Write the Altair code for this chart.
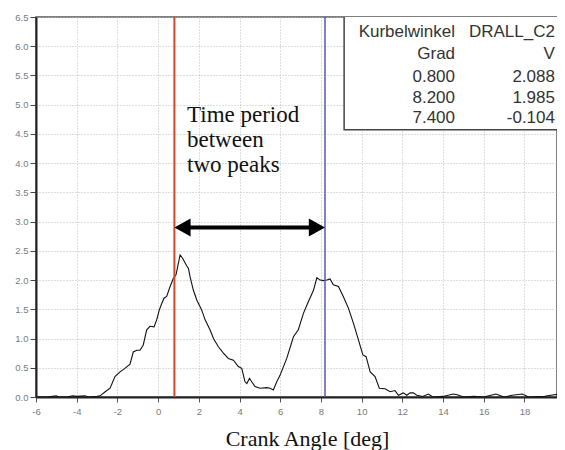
import altair as alt
import pandas as pd

# ---- data ----
angle = [-6.0, -5.5, -5.0, -4.9, -4.5, -4.2, -4.0, -3.6, -3.4, -3.0, -2.85, -2.6, -2.36, -2.12,
         -1.87, -1.63, -1.38, -1.22, -1.05, -0.89, -0.73, -0.56, -0.40, -0.20, -0.07, 0.06,
         0.18, 0.29, 0.42, 0.59, 0.75, 0.88, 1.08, 1.21, 1.41, 1.49, 1.57, 1.73, 1.90, 2.14,
         2.31, 2.55, 2.72, 2.96, 3.21, 3.45, 3.70, 3.94, 4.11, 4.27, 4.36, 4.49, 4.60, 4.76,
         5.01, 5.34, 5.50, 5.66, 5.83, 5.99, 6.32, 6.65, 6.89, 7.14, 7.38, 7.63, 7.80, 7.96,
         8.12, 8.29, 8.45, 8.61, 8.86, 9.10, 9.35, 9.60, 9.84, 10.06, 10.22, 10.42, 10.66,
         10.87, 11.15, 11.40, 11.64, 11.81, 12.05, 12.22, 12.38, 12.54, 12.71, 13.0, 13.28,
         13.5, 14.0, 14.5, 14.7, 15.0, 15.5, 16.0, 16.6, 17.0, 17.4, 17.9, 18.2, 19.0, 19.3,
         19.7, 20.0]
volts = [0.0, 0.0, 0.02, 0.0, 0.0, 0.02, 0.01, 0.02, 0.0, 0.01, 0.02, 0.09, 0.15, 0.35,
         0.43, 0.49, 0.56, 0.77, 0.80, 0.80, 0.89, 1.15, 1.21, 1.20, 1.32, 1.49,
         1.60, 1.69, 1.72, 1.89, 2.03, 2.09, 2.43, 2.37, 2.24, 2.20, 2.06, 1.83, 1.66, 1.49,
         1.32, 1.15, 1.00, 0.86, 0.75, 0.66, 0.63, 0.52, 0.49, 0.26, 0.23, 0.32, 0.26, 0.18,
         0.15, 0.16, 0.15, 0.12, 0.26, 0.37, 0.66, 1.03, 1.15, 1.43, 1.63, 1.82, 2.04, 2.00,
         1.99, 2.00, 2.02, 1.92, 1.89, 1.72, 1.52, 1.26, 0.98, 0.72, 0.69, 0.43, 0.35,
         0.15, 0.14, 0.09, 0.11, 0.03, 0.07, 0.03, 0.07, 0.07, 0.03, 0.01, 0.05,
         0.0, 0.01, 0.05, 0.04, 0.0, 0.01, 0.0, 0.05, 0.0, 0.03, 0.05, 0.0, 0.01, 0.03,
         0.05, 0.01]

cursor_red = 0.8
cursor_blue = 8.2
arrow_level = 2.9
annotation = ["Time period", "between", "two peaks"]

table_col1 = ["Kurbelwinkel", "Grad", "0.800", "8.200", "7.400"]
table_col2 = ["DRALL_C2", "V", "2.088", "1.985", "-0.104"]

x_ticks = list(range(-6, 21, 2))
y_ticks = [i * 0.5 for i in range(14)]

# ---- chart ----
X_DOM = [-6, 19.6]
Y_DOM = [0, 6.5]
xs = alt.Scale(domain=X_DOM, nice=False, zero=False)
ys = alt.Scale(domain=Y_DOM, nice=False, zero=False)

curve_df = pd.DataFrame({"angle": angle, "v": volts})

x_axis = alt.Axis(
    values=x_ticks, labelExpr="datum.value", title="Crank Angle [deg]",
    titleFont="Liberation Serif", titleFontSize=22, titleFontWeight="normal",
    titleColor="#111", titleX=271, titleY=48, titleAlign="center", titleBaseline="alphabetic",
    labelFont="Liberation Sans", labelFontSize=9.5, labelColor="#7a7a7a", labelPadding=4,
    labelOverlap=False, labelFlush=False,
    tickColor="#555", tickSize=5, domainColor="#222", domainWidth=2,
    grid=True, gridColor="#bdbdbd", gridDash=[1, 2], gridWidth=1,
)
y_axis = alt.Axis(
    values=y_ticks, format=".1f", title=None,
    labelFont="Liberation Sans", labelFontSize=9.5, labelColor="#7a7a7a", labelPadding=2,
    labelOverlap=False, labelFlush=False,
    tickColor="#444", tickSize=6, domainColor="#222", domainWidth=2,
    grid=True, gridColor="#bdbdbd", gridDash=[1, 2], gridWidth=1,
)


def X(f):
    return alt.X(f, type="quantitative", scale=xs, axis=x_axis)


def Y(f):
    return alt.Y(f, type="quantitative", scale=ys, axis=y_axis)


curve = alt.Chart(curve_df).mark_line(color="#111", strokeWidth=1.1, clip=True).encode(
    x=X("angle"), y=Y("v"),
)

# table box in top right
box_df = pd.DataFrame({"x": [9.14], "x2": [20.3], "y": [4.57], "y2": [6.6]})
box = alt.Chart(box_df).mark_rect(fill="white", stroke="#444", strokeWidth=1.5, clip=True).encode(
    x=X("x"), x2="x2:Q", y=Y("y"), y2="y2:Q"
)

row_y = [6.158, 5.782, 5.388, 5.029, 4.687]
tab_df = pd.DataFrame({
    "label": table_col1 + table_col2,
    "x": [14.59] * len(table_col1) + [19.5] * len(table_col2),
    "y": row_y + row_y,
})
table = alt.Chart(tab_df).mark_text(
    align="right", baseline="alphabetic", font="Liberation Sans", fontSize=17, color="#333"
).encode(x=X("x"), y=Y("y"), text="label:N")

cur_df = pd.DataFrame({"x": [cursor_red, cursor_blue], "c": ["red", "blue"]})
red = alt.Chart(cur_df[cur_df.c == "red"]).mark_rule(color="#d9462a", strokeWidth=2).encode(
    x=X("x"))
blue = alt.Chart(cur_df[cur_df.c == "blue"]).mark_rule(color="#5858b4", strokeWidth=1.5).encode(
    x=X("x"))

shaft_df = pd.DataFrame({"x": [cursor_red + 0.3], "x2": [cursor_blue - 0.3], "y": [arrow_level]})
shaft = alt.Chart(shaft_df).mark_rule(color="black", strokeWidth=4).encode(
    x=X("x"), x2="x2:Q", y=Y("y"))

left_head = alt.Chart(pd.DataFrame({"x": [cursor_red], "y": [arrow_level]})).mark_point(
    shape="M0,0 L1.8,-1 L1.8,1 Z", size=324, filled=True, color="black", opacity=1, strokeWidth=0
).encode(x=X("x"), y=Y("y"))
right_head = alt.Chart(pd.DataFrame({"x": [cursor_blue], "y": [arrow_level]})).mark_point(
    shape="M0,0 L-1.8,-1 L-1.8,1 Z", size=324, filled=True, color="black", opacity=1, strokeWidth=0
).encode(x=X("x"), y=Y("y"))

note_df = pd.DataFrame({"x": [1.42], "y": [4.70], "t": [annotation]})
note = alt.Chart(note_df).mark_text(
    align="left", baseline="alphabetic", font="Liberation Serif", fontSize=23,
    lineHeight=25, color="#111"
).encode(x=X("x"), y=Y("y"), text="t")

chart = alt.layer(curve, box, red, blue, shaft, left_head, right_head, note, table).properties(
    width=521, height=380,
    autosize=alt.AutoSizeParams(type="none"),
    padding={"left": 28, "top": 9, "right": 0, "bottom": 53},
    background="white",
).configure_view(stroke="#555", strokeWidth=1.5)

chart.save("out.html", embed_options={"renderer": "svg", "actions": False})
